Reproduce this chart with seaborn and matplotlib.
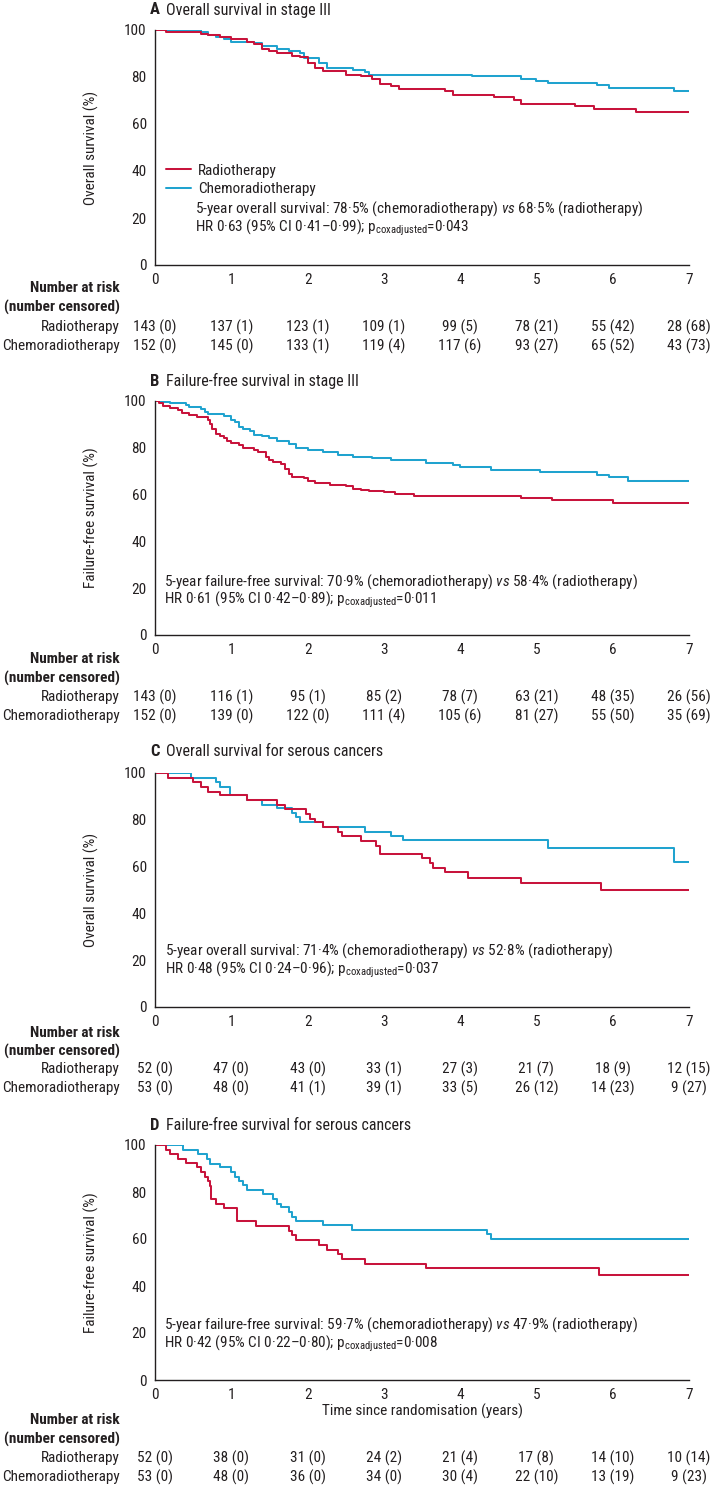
import numpy as np
import pandas as pd
import matplotlib
matplotlib.use("Agg")
import matplotlib.pyplot as plt
from matplotlib import font_manager
from matplotlib.lines import Line2D
from matplotlib.transforms import blended_transform_factory
import seaborn as sns

# ---------------- data ----------------
ARMS = ["Radiotherapy", "Chemoradiotherapy"]
TIME_TICKS = [0, 1, 2, 3, 4, 5, 6, 7]
Y_TICKS = [0, 20, 40, 60, 80, 100]

# Panel A: overall survival stage III
a_rt_t = [0, 0.15, 0.6, 0.7, 0.85, 1.0, 1.2, 1.3, 1.4, 1.5, 1.6, 1.8, 1.9, 2.0, 2.1, 2.2, 2.5, 2.7, 2.85, 2.95, 3.1, 3.2, 3.8, 3.9, 4.45, 4.7, 4.8, 5.5, 5.75, 6.3, 7.0]
a_rt_s = [100, 99, 98.5, 98, 97, 96, 95, 94, 92, 91, 90, 89, 88.5, 86, 84, 82.5, 81, 80.5, 79, 77, 76, 75, 74, 72.5, 71.5, 70, 68.5, 67.5, 66.5, 65, 65]
a_ct_t = [0, 0.6, 0.7, 0.8, 0.9, 1.0, 1.3, 1.4, 1.6, 1.75, 1.9, 1.95, 2.15, 2.25, 2.6, 2.75, 2.8, 4.15, 4.8, 5.0, 5.15, 5.8, 5.95, 6.8, 7.0]
a_ct_s = [100, 99, 98, 97, 96, 95, 94.5, 93, 92, 91, 90, 88, 86, 84, 83, 82, 81, 80.3, 79.3, 78.5, 77.5, 76.5, 75.5, 74, 74]

# Panel B: failure-free survival stage III
b_rt_t = [0, 0.05, 0.1, 0.2, 0.3, 0.35, 0.45, 0.55, 0.7, 0.72, 0.75, 0.8, 0.85, 0.9, 0.95, 1.0, 1.1, 1.15, 1.3, 1.35, 1.45, 1.5, 1.55, 1.65, 1.7, 1.75, 1.8, 1.95, 2.0, 2.1, 2.3, 2.5, 2.6, 2.7, 2.8, 3.0, 3.15, 3.4, 4.8, 5.2, 6.0, 7.0]
b_rt_s = [100, 99, 98, 97, 96, 95, 94, 93, 92, 90, 88, 86, 85, 84, 83, 82, 81, 80, 79, 78, 76, 75, 74, 73, 71, 69, 67.5, 67, 66, 65, 64, 63.5, 62.5, 62, 61.5, 61, 60.2, 59.5, 58.5, 57.5, 56.5, 56.5]
b_ct_t = [0, 0.1, 0.2, 0.4, 0.45, 0.6, 0.65, 0.7, 0.9, 1.0, 1.05, 1.1, 1.15, 1.25, 1.3, 1.4, 1.5, 1.6, 1.75, 1.85, 2.0, 2.2, 2.4, 2.6, 2.85, 3.1, 3.55, 3.9, 4.0, 4.4, 5.05, 5.8, 5.95, 6.2, 7.0]
b_ct_s = [100, 99.5, 99, 98.5, 97.5, 96.5, 95.5, 94.5, 93.5, 92, 91, 89, 88, 87, 85.5, 85, 84, 83, 81.5, 80, 79, 78, 77, 76, 75.5, 75, 73.5, 72.5, 72, 70.5, 69.5, 68.5, 67.5, 66, 66]

# Panel C: overall survival serous
c_rt_t = [0, 0.17, 0.5, 0.6, 0.7, 0.85, 1.2, 1.6, 1.7, 1.98, 2.03, 2.1, 2.2, 2.4, 2.45, 2.7, 2.9, 2.95, 3.5, 3.6, 3.65, 3.8, 4.1, 4.8, 5.85, 7.0]
c_rt_s = [100, 98, 96, 94, 92, 90.5, 88.5, 86.5, 84.5, 82.5, 80.5, 79, 77, 75, 73, 71, 69, 65.5, 63.5, 61.5, 59.5, 57.5, 55, 53, 50, 50]
c_ct_t = [0, 0.47, 0.8, 0.85, 0.98, 1.2, 1.4, 1.6, 1.8, 1.85, 1.9, 2.2, 2.75, 3.1, 3.25, 5.15, 6.8, 7.0]
c_ct_s = [100, 98, 96, 94, 90.5, 88.5, 86.5, 85, 83, 81, 79, 77, 75, 73, 71.5, 68, 62, 62]

# Panel D: failure-free survival serous
d_rt_t = [0, 0.15, 0.2, 0.3, 0.4, 0.55, 0.6, 0.65, 0.7, 0.72, 0.73, 0.74, 0.8, 0.9, 1.07, 1.33, 1.75, 1.8, 1.85, 2.15, 2.25, 2.4, 2.45, 2.75, 3.55, 5.82, 7.0]
d_rt_s = [100, 98, 96, 94, 92.5, 90.5, 88.5, 86.5, 84.5, 82.5, 80, 77, 75, 73, 67.5, 65.5, 63.5, 61.5, 59.5, 57.5, 55.5, 53.5, 51.5, 49.5, 47.5, 44.5, 44.5]
d_ct_t = [0, 0.37, 0.57, 0.68, 0.72, 0.85, 1.0, 1.05, 1.1, 1.15, 1.2, 1.42, 1.55, 1.6, 1.65, 1.75, 1.8, 1.85, 2.2, 2.58, 4.35, 4.4, 7.0]
d_ct_s = [100, 98, 96, 94, 92, 90.5, 88.5, 86.5, 84.5, 83, 81, 79, 77, 75, 73.5, 71.5, 69.5, 67.5, 66, 64, 62, 60, 60]

# Numbers at risk (censored)
a_rt_risk = [143, 137, 123, 109, 99, 78, 55, 28]; a_rt_cens = [0, 1, 1, 1, 5, 21, 42, 68]
a_ct_risk = [152, 145, 133, 119, 117, 93, 65, 43]; a_ct_cens = [0, 0, 1, 4, 6, 27, 52, 73]
b_rt_risk = [143, 116, 95, 85, 78, 63, 48, 26]; b_rt_cens = [0, 1, 1, 2, 7, 21, 35, 56]
b_ct_risk = [152, 139, 122, 111, 105, 81, 55, 35]; b_ct_cens = [0, 0, 0, 4, 6, 27, 50, 69]
c_rt_risk = [52, 47, 43, 33, 27, 21, 18, 12]; c_rt_cens = [0, 0, 0, 1, 3, 7, 9, 15]
c_ct_risk = [53, 48, 41, 39, 33, 26, 14, 9]; c_ct_cens = [0, 0, 1, 1, 5, 12, 23, 27]
d_rt_risk = [52, 38, 31, 24, 21, 17, 14, 10]; d_rt_cens = [0, 0, 0, 2, 4, 8, 10, 14]
d_ct_risk = [53, 48, 36, 34, 30, 22, 13, 9]; d_ct_cens = [0, 0, 0, 0, 4, 10, 19, 23]

letters = ["A", "B", "C", "D"]
titles = ["Overall survival in stage III", "Failure-free survival in stage III",
          "Overall survival for serous cancers", "Failure-free survival for serous cancers"]
ylabels = ["Overall survival (%)", "Failure-free survival (%)", "Overall survival (%)", "Failure-free survival (%)"]
line1 = [r"5-year overall survival: 78·5% (chemoradiotherapy) $\mathit{vs}$ 68·5% (radiotherapy)",
         r"5-year failure-free survival: 70·9% (chemoradiotherapy) $\mathit{vs}$ 58·4% (radiotherapy)",
         r"5-year overall survival: 71·4% (chemoradiotherapy) $\mathit{vs}$ 52·8% (radiotherapy)",
         r"5-year failure-free survival: 59·7% (chemoradiotherapy) $\mathit{vs}$ 47·9% (radiotherapy)"]
line2 = [r"HR 0·63 (95% CI 0·41–0·99); p$_{\mathregular{coxadjusted}}$=0·043",
         r"HR 0·61 (95% CI 0·42–0·89); p$_{\mathregular{coxadjusted}}$=0·011",
         r"HR 0·48 (95% CI 0·24–0·96); p$_{\mathregular{coxadjusted}}$=0·037",
         r"HR 0·42 (95% CI 0·22–0·80); p$_{\mathregular{coxadjusted}}$=0·008"]

# ---------------- style ----------------
RED = "#C8143C"
BLUE = "#20A3CF"
TXT = "#231F20"

sns.set_theme(style="white")
available = {f.name for f in font_manager.fontManager.ttflist}
FONT = "DejaVu Sans"
for cand in ["Liberation Sans Narrow", "Roboto Condensed", "Liberation Sans", "Lato"]:
    if cand in available:
        FONT = cand
        break
plt.rcParams["font.family"] = [FONT, "DejaVu Sans"]
plt.rcParams["mathtext.fontset"] = "custom"
plt.rcParams["mathtext.rm"] = FONT
plt.rcParams["mathtext.it"] = FONT + ":italic"
plt.rcParams["mathtext.bf"] = FONT + ":bold"
plt.rcParams["text.color"] = TXT

W, H = 712, 1485
fig = plt.figure(figsize=(W / 100, H / 100), dpi=100)

def fy(py):
    return 1 - py / H

FS = 11
panels = [
    dict(top=30, bot=265, title_y=10, rows=[288, 307, 327, 346],
         rt=(a_rt_t, a_rt_s), ct=(a_ct_t, a_ct_s),
         risk=(a_rt_risk, a_rt_cens, a_ct_risk, a_ct_cens), tx=0.52, ty=(24.2, 15.8), legend=True),
    dict(top=401, bot=635, title_y=381, rows=[659, 678, 697, 716],
         rt=(b_rt_t, b_rt_s), ct=(b_ct_t, b_ct_s),
         risk=(b_rt_risk, b_rt_cens, b_ct_risk, b_ct_cens), tx=0.12, ty=(22.8, 15.0), legend=False),
    dict(top=773, bot=1007, title_y=752, rows=[1033, 1051, 1069, 1088],
         rt=(c_rt_t, c_rt_s), ct=(c_ct_t, c_ct_s),
         risk=(c_rt_risk, c_rt_cens, c_ct_risk, c_ct_cens), tx=0.13, ty=(24.3, 16.0), legend=False),
    dict(top=1145, bot=1380, title_y=1125, rows=[1420, 1439, 1458, 1477],
         rt=(d_rt_t, d_rt_s), ct=(d_ct_t, d_ct_s),
         risk=(d_rt_risk, d_rt_cens, d_ct_risk, d_ct_cens), tx=0.12, ty=(23.4, 15.3), legend=False),
]

left_px, right_px = 155, 689
for i, p in enumerate(panels):
    ax = fig.add_axes([left_px / W, fy(p["bot"]), (right_px - left_px) / W, (p["bot"] - p["top"]) / H])
    df = pd.concat([
        pd.DataFrame({"time": p["ct"][0], "surv": p["ct"][1], "arm": ARMS[1]}),
        pd.DataFrame({"time": p["rt"][0], "surv": p["rt"][1], "arm": ARMS[0]}),
    ], ignore_index=True)
    sns.lineplot(data=df, x="time", y="surv", hue="arm", hue_order=[ARMS[1], ARMS[0]],
                 palette={ARMS[0]: RED, ARMS[1]: BLUE}, estimator=None, sort=False,
                 drawstyle="steps-post", linewidth=1.45, legend=False, ax=ax)
    ax.set_xlim(0, 7)
    ax.set_ylim(0, 100)
    ax.set_xticks(TIME_TICKS)
    ax.set_yticks(Y_TICKS)
    ax.set_xticklabels([str(t) for t in TIME_TICKS], fontsize=FS)
    ax.set_yticklabels([str(t) for t in Y_TICKS], fontsize=FS)
    for s in ["top", "right"]:
        ax.spines[s].set_visible(False)
    for s in ["left", "bottom"]:
        ax.spines[s].set_color(TXT)
        ax.spines[s].set_linewidth(1.0)
    ax.tick_params(axis="both", direction="out", length=4, width=1.0, color=TXT, labelcolor=TXT, pad=2)
    ax.set_ylabel(ylabels[i], fontsize=FS, color=TXT)
    ax.yaxis.set_label_coords(-0.105, 0.5)
    if i == 3:
        ax.set_xlabel("Time since randomisation (years)", fontsize=FS, color=TXT, labelpad=1)
    else:
        ax.set_xlabel("")
    ax.patch.set_alpha(0)

    # title
    fig.text(150 / W, fy(p["title_y"]), letters[i], fontsize=FS + 1, fontweight="bold", va="center", ha="left")
    fig.text(166 / W, fy(p["title_y"]), titles[i], fontsize=FS + 0.5, va="center", ha="left")

    # annotation
    ax.text(p["tx"], p["ty"][0], line1[i], fontsize=FS, va="center", ha="left")
    ax.text(p["tx"], p["ty"][1], line2[i], fontsize=FS, va="center", ha="left")

    if p["legend"]:
        handles = [Line2D([], [], color=RED, lw=1.45), Line2D([], [], color=BLUE, lw=1.45)]
        ax.legend(handles, ARMS, loc="center left", bbox_to_anchor=(0.15 / 7, 0.362),
                  frameon=False, fontsize=FS, handlelength=1.6, handletextpad=0.45,
                  borderpad=0, borderaxespad=0, labelspacing=0.3)

    # risk table
    tr = blended_transform_factory(ax.transData, fig.transFigure)
    r = p["rows"]
    fig.text(120 / W, fy(r[0]), "Number at risk", fontsize=FS, fontweight="bold", ha="right", va="center")
    fig.text(120 / W, fy(r[1]), "(number censored)", fontsize=FS, fontweight="bold", ha="right", va="center")
    fig.text(120 / W, fy(r[2]), ARMS[0], fontsize=FS, ha="right", va="center")
    fig.text(120 / W, fy(r[3]), ARMS[1], fontsize=FS, ha="right", va="center")
    rt_risk, rt_cens, ct_risk, ct_cens = p["risk"]
    for j, t in enumerate(TIME_TICKS):
        ax.text(t, fy(r[2]), f"{rt_risk[j]} ({rt_cens[j]})", transform=tr, fontsize=FS, ha="center", va="center", clip_on=False)
        ax.text(t, fy(r[3]), f"{ct_risk[j]} ({ct_cens[j]})", transform=tr, fontsize=FS, ha="center", va="center", clip_on=False)

fig.savefig("out.png", dpi=100)
